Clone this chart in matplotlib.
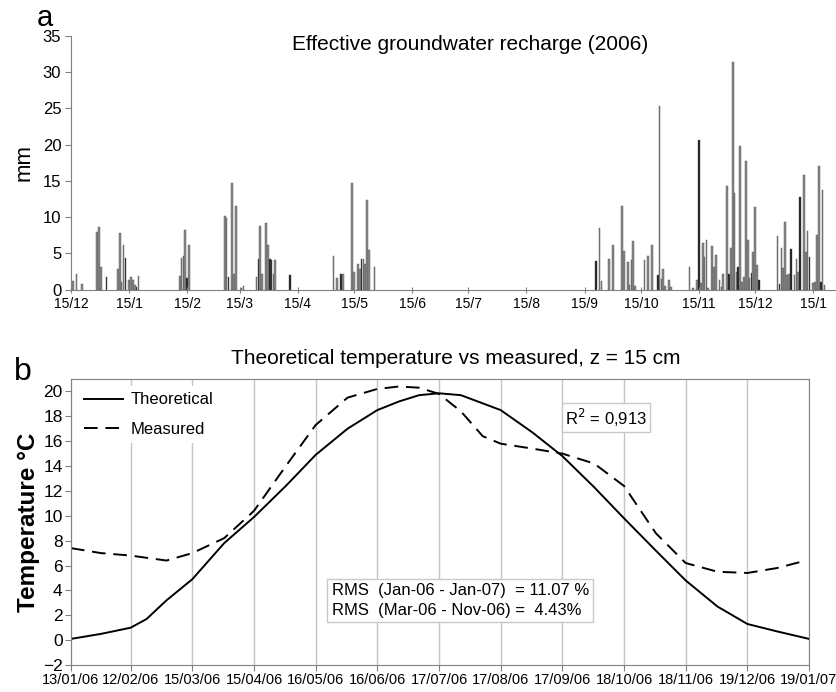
import pandas as pd
import matplotlib
matplotlib.use('Agg')
import matplotlib.pyplot as plt

plt.rcParams['font.family'] = ['Liberation Sans', 'DejaVu Sans']

# ---- panel a: daily effective recharge (days after 15/12/2005, mm) ----
rech_day = [1, 3, 6, 14, 15, 16, 19, 25, 26, 27, 28, 29, 31, 32, 33, 34, 35, 36,
            58, 59, 60, 61, 62, 63, 82, 83, 84, 86, 87, 88, 91, 92,
            99, 100, 101, 102, 104, 105, 106, 107, 108, 109, 117,
            140, 142, 144, 145, 150, 151, 153, 154, 155, 156, 157, 158, 159, 162,
            280, 282, 283, 287, 289, 294, 295, 297, 298, 299, 300, 301,
            306, 308, 310, 313, 314, 315, 316, 317, 319, 320,
            330, 332, 334, 335, 336, 337, 338, 339, 340, 342, 343, 344, 346, 347, 348,
            350, 351, 352, 353, 354, 355, 356, 357, 358, 359, 360, 361, 362, 363,
            364, 365, 366, 367,
            377, 378, 379, 380, 381, 382, 383, 384, 386, 387, 388, 389, 391, 392,
            393, 394, 396, 397, 398, 399, 400, 401, 402]
rech_mm = [1.2, 2.1, 0.8, 8.0, 8.6, 3.2, 1.8, 2.9, 7.8, 1.0, 6.2, 4.4, 1.4, 1.7, 1.3, 0.7, 0.4, 1.9,
           1.9, 4.4, 4.7, 8.3, 1.6, 6.1, 10.1, 9.9, 1.8, 14.7, 2.1, 11.6, 0.3, 0.5,
           1.8, 4.2, 8.8, 2.2, 9.2, 6.2, 4.2, 4.1, 2.1, 4.1, 2.0,
           4.6, 1.6, 2.2, 2.2, 14.7, 2.5, 3.6, 2.8, 4.3, 4.3, 3.5, 12.4, 5.5, 3.2,
           3.9, 8.5, 1.2, 4.2, 6.2, 11.5, 5.4, 3.8, 0.6, 4.1, 6.7, 0.5,
           4.1, 4.7, 6.2, 2.0, 25.3, 1.5, 2.8, 0.5, 1.3, 0.4,
           3.1, 0.3, 1.3, 20.6, 0.9, 6.4, 4.5, 6.9, 0.2, 6.0, 3.2, 4.8, 1.3, 0.4, 2.2,
           14.3, 2.2, 5.7, 31.4, 13.4, 2.5, 3.2, 19.8, 1.1, 1.8, 17.8, 6.9, 1.6, 2.3,
           5.2, 11.4, 3.4, 1.3,
           7.4, 0.8, 5.7, 3.0, 9.3, 2.0, 2.2, 5.6, 2.0, 4.3, 2.5, 12.8, 15.8, 5.2,
           8.1, 4.5, 0.9, 1.0, 7.5, 17.0, 1.0, 13.8, 0.6]
dark_days = [19, 29, 35, 62, 84, 100, 106, 107, 117, 144, 155,
             280, 313, 335, 351, 356, 363, 367, 378, 384, 389, 394, 400]

month_ticks = [0, 31, 62, 90, 121, 151, 182, 212, 243, 274, 304, 335, 365, 396]
month_labels = ['15/12', '15/1', '15/2', '15/3', '15/4', '15/5', '15/6', '15/7',
                '15/8', '15/9', '15/10', '15/11', '15/12', '15/1']

# ---- panel b: temperature at z = 15 cm ----
start = pd.Timestamp('2006-01-13')
theo_day = [0, 15, 30, 38, 48, 61, 77, 92, 108, 123, 139, 154, 165, 175, 185, 196,
            216, 232, 247, 263, 278, 294, 309, 325, 340, 355, 371]
theo_t = [0.1, 0.5, 1.0, 1.7, 3.2, 4.9, 7.8, 9.9, 12.4, 14.9, 17.0, 18.5, 19.2, 19.7,
          19.85, 19.7, 18.5, 16.7, 14.8, 12.3, 9.8, 7.2, 4.8, 2.7, 1.3, 0.7, 0.1]
meas_day = [0, 15, 30, 48, 61, 77, 92, 108, 123, 139, 154, 165, 175, 185, 196, 207,
            216, 232, 247, 263, 278, 294, 309, 325, 340, 355, 367]
meas_t = [7.4, 7.0, 6.8, 6.4, 7.0, 8.2, 10.4, 14.0, 17.3, 19.5, 20.2, 20.4, 20.3, 19.8,
          18.4, 16.4, 15.8, 15.4, 15.0, 14.2, 12.4, 8.6, 6.2, 5.5, 5.4, 5.8, 6.3]
date_ticks = ['13/01/06', '12/02/06', '15/03/06', '15/04/06', '16/05/06', '16/06/06',
              '17/07/06', '17/08/06', '17/09/06', '18/10/06', '18/11/06', '19/12/06',
              '19/01/07']

W, H = 837, 692
fig = plt.figure(figsize=(W / 100, H / 100), dpi=100)
spine_col = '#808080'

# ---------------- panel a ----------------
axa = fig.add_axes([71 / W, 1 - 289.7 / H, 765.7 / W, 253.7 / H])
cols = ['#202020' if d in dark_days else '#8a8a8a' for d in rech_day]
axa.bar(rech_day, rech_mm, width=0.9, color=cols, edgecolor='#505050', linewidth=0.3)
axa.set_xlim(0, 408.5)
axa.set_ylim(0, 35)
axa.set_yticks(range(0, 36, 5))
axa.set_xticks(month_ticks)
axa.set_xticklabels(month_labels)
for s in ['top', 'right']:
    axa.spines[s].set_visible(False)
for s in ['left', 'bottom']:
    axa.spines[s].set_color(spine_col)
axa.tick_params(axis='x', direction='inout', length=5, color=spine_col, labelsize=10, pad=3)
axa.tick_params(axis='y', direction='out', length=4, color=spine_col, labelsize=12, pad=3)
axa.set_ylabel('mm', fontsize=16, labelpad=6)
axa.text(0.521, 0.965, 'Effective groundwater recharge (2006)', transform=axa.transAxes,
         ha='center', va='center', fontsize=15)
fig.text(45 / W, 1 - 18 / H, 'a', fontsize=21, ha='center', va='center')

# ---------------- panel b ----------------
axb = fig.add_axes([71 / W, 1 - 665 / H, 738 / W, 286 / H])
tick_pos = [(pd.to_datetime(t, format='%d/%m/%y') - start).days for t in date_ticks]
axb.plot(theo_day, theo_t, color='black', lw=1.4, label='Theoretical')
axb.plot(meas_day, meas_t, color='black', lw=1.4, dashes=(7, 4), label='Measured')
axb.set_xlim(0, 371)
axb.set_ylim(-2, 21)
axb.set_yticks(range(-2, 21, 2))
axb.set_xticks(tick_pos)
axb.set_xticklabels(date_ticks)
axb.grid(axis='x', color='#c4c4c4', lw=1.0)
axb.set_axisbelow(True)
for s in axb.spines.values():
    s.set_color(spine_col)
axb.tick_params(axis='x', direction='out', length=4, color=spine_col, labelsize=10.5, pad=2)
axb.tick_params(axis='y', direction='out', length=4, color=spine_col, labelsize=12.5, pad=2)
axb.set_ylabel('Temperature °C', fontsize=17.5, fontweight='bold', labelpad=2)
leg = axb.legend(loc='upper left', fontsize=12, frameon=True, framealpha=1,
                 facecolor='white', edgecolor='none', handlelength=2.3,
                 handletextpad=0.5, borderaxespad=0.4, labelspacing=0.85)
leg.get_frame().set_boxstyle('square', pad=0.0)
axb.text(269, 17.9, 'R$^2$ = 0,913', ha='center', va='center', fontsize=12,
         bbox=dict(boxstyle='square,pad=0.2', fc='white', ec='#c8c8c8', lw=1))
axb.text(131, 3.2, 'RMS  (Jan-06 - Jan-07)  = 11.07 %\nRMS  (Mar-06 - Nov-06) =  4.43%',
         ha='left', va='center', fontsize=12, linespacing=1.4,
         bbox=dict(boxstyle='square,pad=0.25', fc='white', ec='#c8c8c8', lw=1))
axb.text(0.522, 1.073, 'Theoretical temperature vs measured, z = 15 cm',
         transform=axb.transAxes, ha='center', va='center', fontsize=15)
fig.text(23 / W, 1 - 372 / H, 'b', fontsize=23, ha='center', va='center')

fig.savefig('out.png', dpi=100)
